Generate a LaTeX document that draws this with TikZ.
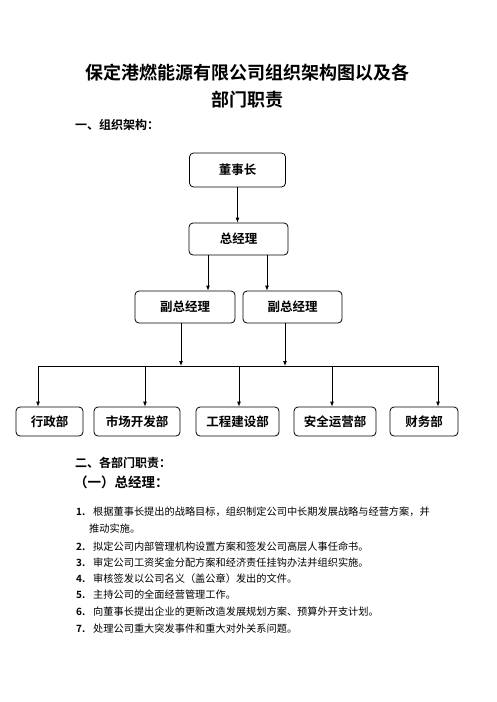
\documentclass[tikz,border=0pt]{standalone}
\usepackage{fontspec}
\newfontfamily\cjk[BoldFont={Noto Sans CJK SC Bold}]{Noto Sans CJK SC}
\usetikzlibrary{arrows.meta}
\begin{document}
\begin{tikzpicture}[x=1pt,y=-1pt,
  box/.style={draw, rounded corners=4pt, line width=0.8pt, inner sep=0pt,
    font=\cjk\bfseries\fontsize{12.5}{14}\selectfont},
  arr/.style={line width=0.8pt, -{Latex[length=5pt,width=4pt]}},
  lnk/.style={line width=0.8pt},
  ttl/.style={inner sep=0pt, font=\cjk\bfseries\fontsize{18}{20}\selectfont},
  hd/.style={inner sep=0pt, anchor=west, font=\cjk\bfseries\fontsize{12}{14}\selectfont},
  num/.style={inner sep=0pt, anchor=west, font=\cjk\bfseries\fontsize{10}{12}\selectfont},
  itm/.style={inner sep=0pt, anchor=west, font=\cjk\fontsize{10.2}{12}\selectfont}]
\useasboundingbox (0,0) rectangle (496,702);
\fill[white] (0,0) rectangle (496,702);

% titles
\node[ttl] (t1) at (247,73) {保定港燃能源有限公司组织架构图以及各};
\node[ttl] (t2) at (247,100) {部门职责};
\node[hd] (h1) at (75,125) {一、组织架构：};

% boxes
\node[box, minimum width=96, minimum height=34] (dsz) at (237.5,170) {董事长};
\node[box, minimum width=99, minimum height=32] (zjl) at (238.5,239) {总经理};
\node[box, minimum width=100, minimum height=32] (fz1) at (185,307) {副总经理};
\node[box, minimum width=99, minimum height=32] (fz2) at (292.5,307) {副总经理};
\node[box, minimum width=67, minimum height=29] (xz) at (49.5,421.5) {行政部};
\node[box, minimum width=86, minimum height=29] (sc) at (137,421.5) {市场开发部};
\node[box, minimum width=83, minimum height=29] (gc) at (237.5,421.5) {工程建设部};
\node[box, minimum width=82, minimum height=29] (aq) at (335,421.5) {安全运营部};
\node[box, minimum width=68, minimum height=29] (cw) at (424,421.5) {财务部};

% connectors
\draw[arr] (dsz.south) -- (zjl.north -| dsz.south);
\coordinate (a1) at (208,0);
\coordinate (a2) at (267,0);
\draw[arr] (zjl.south -| a1) -- (fz1.north -| a1);
\draw[arr] (zjl.south -| a2) -- (fz2.north -| a2);
\coordinate (busL) at (38,366);
\coordinate (busR) at (438,366);
\coordinate (b1) at (181,366);
\coordinate (b2) at (285,366);
\coordinate (d2) at (145,366);
\coordinate (d3) at (239,366);
\coordinate (d4) at (332,366);
\draw[lnk] (busL) -- (busR);
\draw[arr] (fz1.south -| b1) -- (b1);
\draw[arr] (fz2.south -| b2) -- (b2);
\draw[arr] (busL) -- (xz.north -| busL);
\draw[arr] (d2) -- (sc.north -| d2);
\draw[arr] (d3) -- (gc.north -| d3);
\draw[arr] (d4) -- (aq.north -| d4);
\draw[arr] (busR) -- (cw.north -| busR);

% section 2
\node[hd] (h2) at (75,463) {二、各部门职责：};
\node[hd, font=\cjk\bfseries\fontsize{13.5}{15}\selectfont] (h3) at (74,482) {（一）总经理：};

\node[num] (n1) at (76,512) {1.};
\node[itm] (i1) at (93,512) {根据董事长提出的战略目标，组织制定公司中长期发展战略与经营方案，并};
\node[itm] (i1b) at (89,529) {推动实施。};
\node[num] (n2) at (76,547) {2.};
\node[itm] (i2) at (93,547) {拟定公司内部管理机构设置方案和签发公司高层人事任命书。};
\node[num] (n3) at (76,563) {3.};
\node[itm] (i3) at (93,563) {审定公司工资奖金分配方案和经济责任挂钩办法并组织实施。};
\node[num] (n4) at (76,579) {4.};
\node[itm] (i4) at (93,579) {审核签发以公司名义（盖公章）发出的文件。};
\node[num] (n5) at (76,595) {5.};
\node[itm] (i5) at (93,595) {主持公司的全面经营管理工作。};
\node[num] (n6) at (76,612) {6.};
\node[itm] (i6) at (93,612) {向董事长提出企业的更新改造发展规划方案、预算外开支计划。};
\node[num] (n7) at (76,629) {7.};
\node[itm] (i7) at (93,629) {处理公司重大突发事件和重大对外关系问题。};
\end{tikzpicture}
\end{document}
